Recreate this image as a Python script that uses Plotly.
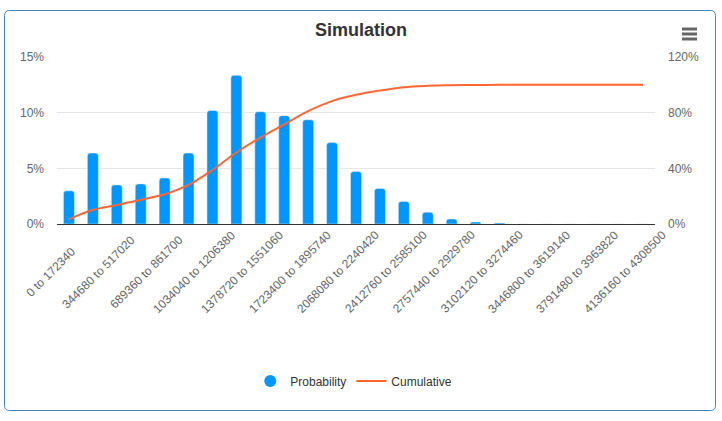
import plotly.graph_objects as go

# bins of width 172340
bin_start = [i * 172340 for i in range(25)]
categories = [f"{s} to {s + 172340}" for s in bin_start]
shown_labels = categories[::2]

# values (percent)
probability = [2.98, 6.37, 3.51, 3.60, 4.14, 6.37, 10.2, 13.35, 10.09, 9.73,
               9.37, 7.31, 4.72, 3.19, 2.03, 1.06, 0.45, 0.18, 0.09, 0, 0, 0, 0, 0, 0]
cumulative = [3.3, 10.2, 13.6, 17.4, 21.4, 28.1, 38.8, 51.4, 62.1, 71.6,
              81.1, 88.3, 92.8, 95.9, 98.3, 99.3, 99.7, 99.9, 100, 100, 100, 100, 100, 100, 100]

left_ticks = [0, 5, 10, 15]
right_ticks = [0, 40, 80, 120]

W, H = 722, 421
L, R, T, B = 57, 655, 57, 224  # plot area in pixels


def px(x):
    return (x - L) / (R - L)


def py(y):
    return (B - y) / (B - T)


fig = go.Figure()

fig.add_trace(go.Bar(x=categories, y=probability, name='Probability',
                     marker=dict(color='#0096FF', cornerradius=3),
                     showlegend=False, legendgroup='p', hoverinfo='skip'))
fig.add_trace(go.Scatter(x=categories, y=cumulative, name='Cumulative', yaxis='y2',
                         mode='lines', line=dict(color='#FF6633', width=2, shape='spline'),
                         legendgroup='c', legendrank=2))
# legend entry with round symbol like the original
fig.add_trace(go.Scatter(x=[None], y=[None], name='Probability', mode='markers',
                         marker=dict(color='#0096FF', size=12, symbol='circle'),
                         legendgroup='p', legendrank=1))

# outer rounded frame
x0, x1, y0, y1 = px(4.5), px(715.5), py(410.5), py(10.5)
rx, ry = 5 / (R - L), 5 / (B - T)
frame = (f"M {x0 + rx},{y1} L {x1 - rx},{y1} Q {x1},{y1} {x1},{y1 - ry} "
         f"L {x1},{y0 + ry} Q {x1},{y0} {x1 - rx},{y0} "
         f"L {x0 + rx},{y0} Q {x0},{y0} {x0},{y0 + ry} "
         f"L {x0},{y1 - ry} Q {x0},{y1} {x0 + rx},{y1} Z")
shapes = [dict(type='path', path=frame, xref='paper', yref='paper',
               line=dict(color='#4a80b8', width=1), layer='below')]
# menu icon
for yy in (29, 34, 39):
    shapes.append(dict(type='line', xref='paper', yref='paper',
                       x0=px(682), x1=px(697), y0=py(yy), y1=py(yy),
                       line=dict(color='#666666', width=3)))

# rotated category labels, centred below their category like the original
annotations = [dict(x=lab, xref='x', y=py(272), yref='paper', text=lab,
                    showarrow=False, textangle=-45, xanchor='center', yanchor='middle',
                    xshift=-18, font=dict(size=12, color='#666666'))
               for lab in shown_labels]

fig.update_layout(
    width=W, height=H,
    margin=dict(l=L, r=W - R, t=T, b=H - B),
    paper_bgcolor='white', plot_bgcolor='white',
    font=dict(family='Liberation Sans, Arial, sans-serif', color='#666666', size=12),
    title=dict(text='<b>Simulation</b>', x=0.5, xref='container', xanchor='center',
               y=1 - 30 / H, yref='container', yanchor='middle',
               font=dict(size=18, color='#333333')),
    bargap=0.54,
    showlegend=True,
    legend=dict(orientation='h', xref='container', x=0.49, xanchor='center',
                yref='container', y=1 - 381 / H, yanchor='middle',
                font=dict(size=12, color='#333333'), itemwidth=30),
    xaxis=dict(type='category', range=[-0.5, 24.5], showticklabels=False,
               showgrid=False, showline=True, linecolor='#333333', linewidth=1,
               ticks=''),
    yaxis=dict(range=[0, 15], tickmode='array', tickvals=left_ticks,
               ticktext=[f"{v}%" for v in left_ticks],
               showgrid=True, gridcolor='#e6e6e6', zeroline=False,
               ticklabelstandoff=12, tickfont=dict(size=12, color='#666666')),
    yaxis2=dict(range=[0, 120], tickmode='array', tickvals=right_ticks,
                ticktext=[f"{v}%" for v in right_ticks],
                overlaying='y', side='right', showgrid=False, zeroline=False,
                ticklabelstandoff=12, tickfont=dict(size=12, color='#666666')),
    shapes=shapes,
    annotations=annotations,
)

fig.write_html("out.html", config={'displayModeBar': False},
               post_script="document.body.style.margin='0';")
